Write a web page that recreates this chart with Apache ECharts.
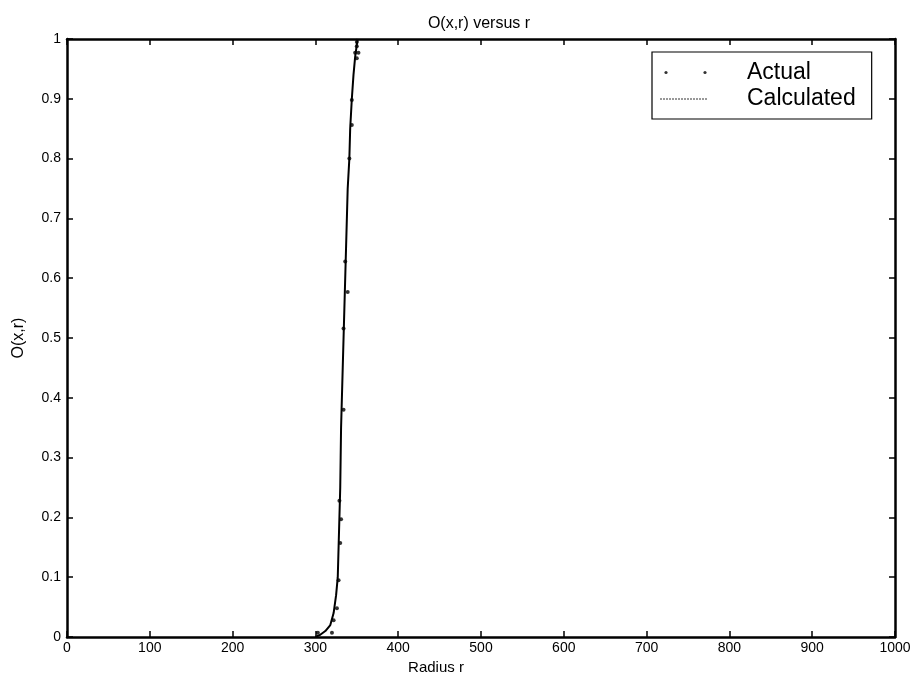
<!DOCTYPE html>
<html><head><meta charset="utf-8">
<script src="https://cdn.jsdelivr.net/npm/echarts@6/dist/echarts.min.js"></script>
<style>html,body{margin:0;padding:0;background:#fff}#c{width:919px;height:682px}</style>
</head><body><div id="c"></div>
<script>
// Data
const actualR = [303, 320, 322, 326, 328, 330, 331, 329, 334, 334, 339, 336, 341, 344, 344, 350, 348, 352, 350, 350];
const actualO = [0.007, 0.007, 0.028, 0.048, 0.095, 0.157, 0.197, 0.228, 0.38, 0.516, 0.577, 0.628, 0.8, 0.856, 0.898, 0.968, 0.977, 0.977, 0.988, 0.995];
const calcR = [300, 305, 312, 318, 322, 325, 327, 328, 329, 330, 330.5, 331, 332, 333, 334, 335, 336, 337, 338, 339, 341, 342, 344, 346, 348, 350, 351];
const calcO = [0, 0.003, 0.01, 0.02, 0.04, 0.07, 0.1, 0.15, 0.2, 0.25, 0.3, 0.35, 0.4, 0.45, 0.5, 0.55, 0.6, 0.65, 0.7, 0.75, 0.8, 0.85, 0.9, 0.94, 0.97, 0.99, 1.0];
const xTicks = [0, 100, 200, 300, 400, 500, 600, 700, 800, 900, 1000];
const yTicks = [0, 0.1, 0.2, 0.3, 0.4, 0.5, 0.6, 0.7, 0.8, 0.9, 1];

const FONT = 'Liberation Sans, Arial, sans-serif';
const chart = echarts.init(document.getElementById('c'), null, {renderer: 'canvas'});
const actualData = actualR.map((r, i) => [r, actualO[i]]);
const calcData = calcR.map((r, i) => [r, calcO[i]]);

const svgIcon = s => 'image://data:image/svg+xml;utf8,' + encodeURIComponent(s);
const actualIcon = svgIcon('<svg xmlns="http://www.w3.org/2000/svg" width="50" height="10"><circle cx="8" cy="5" r="1.6" fill="black"/><circle cx="47" cy="5" r="1.6" fill="black"/></svg>');
const calcIcon = svgIcon('<svg xmlns="http://www.w3.org/2000/svg" width="50" height="10"><line x1="2" y1="5.5" x2="50" y2="5.5" stroke="#333" stroke-width="1" stroke-dasharray="2,1"/></svg>');

const baseX = {
  type: 'value', min: xTicks[0], max: xTicks[xTicks.length - 1], interval: 100,
  splitLine: {show: false},
  axisLine: {show: true, onZero: false, lineStyle: {color: '#000', width: 2.5}},
  axisTick: {show: true, inside: true, length: 6, lineStyle: {color: '#000', width: 1.5}}
};
const baseY = {
  type: 'value', min: yTicks[0], max: yTicks[yTicks.length - 1], interval: 0.1,
  splitLine: {show: false},
  axisLine: {show: true, onZero: false, lineStyle: {color: '#000', width: 2.5}},
  axisTick: {show: true, inside: true, length: 6, lineStyle: {color: '#000', width: 1.5}}
};

chart.setOption({
  animation: false,
  backgroundColor: '#fff',
  title: {
    text: 'O(x,r) versus r', left: 474, top: 11, textAlign: 'center',
    textStyle: {fontFamily: FONT, fontSize: 16, fontWeight: 'normal', color: '#000'}
  },
  legend: {
    left: 652, top: 52, orient: 'vertical',
    backgroundColor: '#fff', borderColor: '#000', borderWidth: 1.2, borderRadius: 0,
    padding: [9, 16, 9, 6], itemGap: 3, itemWidth: 50, itemHeight: 10,
    textStyle: {fontFamily: FONT, fontSize: 23, color: '#000', padding: [0, 0, 0, 34]},
    data: [
      {name: 'Actual', icon: actualIcon},
      {name: 'Calculated', icon: calcIcon}
    ]
  },
  grid: {left: 67, right: 24, top: 39, bottom: 45, show: false},
  xAxis: [
    Object.assign({}, baseX, {
      position: 'bottom', name: 'Radius r', nameLocation: 'middle', nameGap: 23,
      nameTextStyle: {fontFamily: FONT, fontSize: 15, color: '#000', padding: [0, 90, 0, 0]},
      axisLabel: {fontFamily: FONT, fontSize: 14, color: '#000', margin: 4,
        formatter: v => String(v)}
    }),
    Object.assign({}, baseX, {position: 'top', axisLabel: {show: false}})
  ],
  yAxis: [
    Object.assign({}, baseY, {
      position: 'left', name: 'O(x,r)', nameLocation: 'middle', nameGap: 40,
      nameTextStyle: {fontFamily: FONT, fontSize: 16, color: '#000'},
      axisLabel: {fontFamily: FONT, fontSize: 14, color: '#000', margin: 6,
        formatter: v => String(Math.round(v * 10) / 10)}
    }),
    Object.assign({}, baseY, {position: 'right', axisLabel: {show: false}})
  ],
  series: [
    {
      name: 'Calculated', type: 'line', data: calcData, showSymbol: false, symbol: 'none',
      lineStyle: {color: '#000', width: 2}, itemStyle: {color: '#000'}, smooth: false
    },
    {
      name: 'Actual', type: 'scatter', data: actualData, symbol: 'circle', symbolSize: 4,
      itemStyle: {color: '#000'}
    }
  ]
});
</script></body></html>
